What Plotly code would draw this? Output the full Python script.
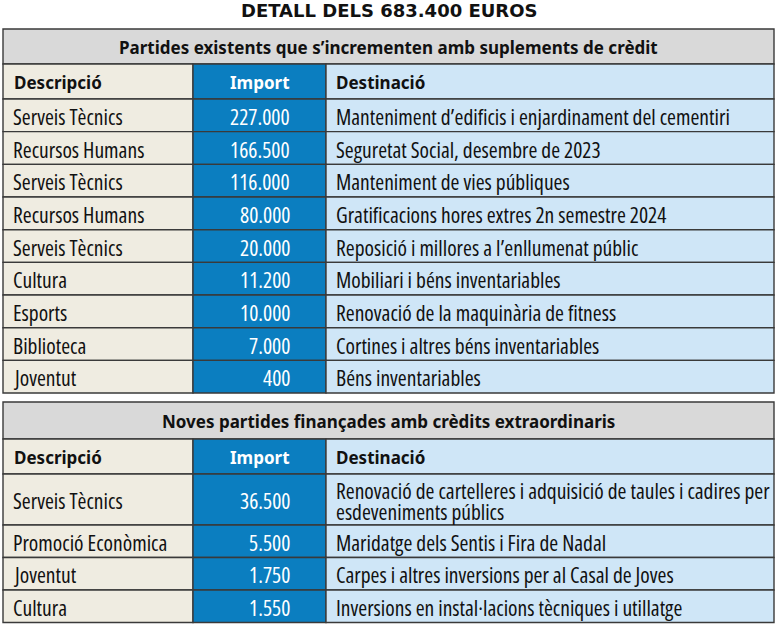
import plotly.graph_objects as go

# ── Data ──────────────────────────────────────────────────────────────────
TITLE = "DETALL DELS 683.400 EUROS"
HEADERS = ["Descripció", "Import", "Destinació"]

T1_TITLE = "Partides existents que s’incrementen amb suplements de crèdit"
T1_DESC = ["Serveis Tècnics", "Recursos Humans", "Serveis Tècnics", "Recursos Humans",
           "Serveis Tècnics", "Cultura", "Esports", "Biblioteca", "Joventut"]
T1_IMPORT = [227000, 166500, 116000, 80000, 20000, 11200, 10000, 7000, 400]
T1_DEST = ["Manteniment d’edificis i enjardinament del cementiri",
           "Seguretat Social, desembre de 2023",
           "Manteniment de vies públiques",
           "Gratificacions hores extres 2n semestre 2024",
           "Reposició i millores a l’enllumenat públic",
           "Mobiliari i béns inventariables",
           "Renovació de la maquinària de fitness",
           "Cortines i altres béns inventariables",
           "Béns inventariables"]

T2_TITLE = "Noves partides finançades amb crèdits extraordinaris"
T2_DESC = ["Serveis Tècnics", "Promoció Econòmica", "Joventut", "Cultura"]
T2_IMPORT = [36500, 5500, 1750, 1550]
T2_DEST = ["Renovació de cartelleres i adquisició de taules i cadires per<br>esdeveniments públics",
           "Maridatge dels Sentis i Fira de Nadal",
           "Carpes i altres inversions per al Casal de Joves",
           "Inversions en instal·lacions tècniques i utillatge"]

# ── Style ─────────────────────────────────────────────────────────────────
W, H = 778, 627
X0, X1, X2, X3 = 3, 193, 326, 774
GRAY = "#d9d9d9"
BEIGE = "#efece1"
BLUE = "#0b7ec0"
LBLUE = "#cfe6f7"
EDGE = "#3a3a3a"
BODY = "Open Sans, sans-serif"
BOLD = "Noto Sans, Open Sans, sans-serif"
BODY_SIZE = 21.5
LINE_GAP = 21


def fmt(v):
    return f"{v:,}".replace(",", ".")


def narrow(s):
    return f'<span style="font-stretch:condensed">{s}</span>'


shapes, annots = [], []


def rect(x0, y0, x1, y1, fill):
    shapes.append(dict(type="rect", xref="x", yref="y", x0=x0, x1=x1, y0=y0, y1=y1,
                       fillcolor=fill, line=dict(color=EDGE, width=1.4), layer="below"))


def text(x, y, s, anchor="left", color="#111", family=BODY, size=BODY_SIZE, weight="normal"):
    annots.append(dict(x=x, y=y, xref="x", yref="y", text=s, showarrow=False,
                       xanchor=anchor, yanchor="middle", align="left",
                       font=dict(family=family, size=size, color=color, weight=weight)))


def body(x, yc, s, anchor="left", color="#111"):
    lines = s.split("<br>")
    y = yc - (len(lines) - 1) * LINE_GAP / 2
    for ln in lines:
        text(x, y, narrow(ln), anchor, color)
        y += LINE_GAP


def table(top, title_h, title, desc, imp, dest, row_h):
    rect(X0, top, X3, top + title_h, GRAY)
    text((X0 + X3) / 2, top + title_h / 2 + 1, title, "center", family=BOLD, size=17, weight="bold")
    y = top + title_h
    hh = 35
    rect(X0, y, X1, y + hh, BEIGE)
    rect(X1, y, X2, y + hh, BLUE)
    rect(X2, y, X3, y + hh, LBLUE)
    text(X0 + 9, y + hh / 2 + 1, HEADERS[0], family=BOLD, size=17, weight="bold")
    text((X1 + X2) / 2, y + hh / 2 + 1, HEADERS[1], "center", "white", BOLD, 17, "bold")
    text(X2 + 8, y + hh / 2 + 1, HEADERS[2], family=BOLD, size=17, weight="bold")
    y += hh
    for d, v, s, h in zip(desc, imp, dest, row_h):
        rect(X0, y, X1, y + h, BEIGE)
        rect(X1, y, X2, y + h, BLUE)
        rect(X2, y, X3, y + h, LBLUE)
        body(X0 + 8, y + h / 2 + 1, d)
        body(X2 - 34, y + h / 2 + 1, fmt(v), "right", "white")
        body(X2 + 8, y + h / 2 + 1, s)
        y += h


table(29, 35, T1_TITLE, T1_DESC, T1_IMPORT, T1_DEST, [32.67] * len(T1_DESC))
table(402, 37, T2_TITLE, T2_DESC, T2_IMPORT, T2_DEST, [51, 32.5, 32.5, 32.5])

text(W / 2, 10, TITLE, "center", family="DejaVu Sans, sans-serif", size=18, weight="bold")

fig = go.Figure()
fig.update_layout(
    width=W, height=H,
    margin=dict(l=0, r=0, t=0, b=0),
    paper_bgcolor="white", plot_bgcolor="white",
    xaxis=dict(range=[0, W], visible=False, fixedrange=True),
    yaxis=dict(range=[H, 0], visible=False, fixedrange=True),
    shapes=shapes, annotations=annots, showlegend=False,
)
fig.write_html("out.html", config={"displayModeBar": False},
               post_script="document.body.style.margin='0';")
